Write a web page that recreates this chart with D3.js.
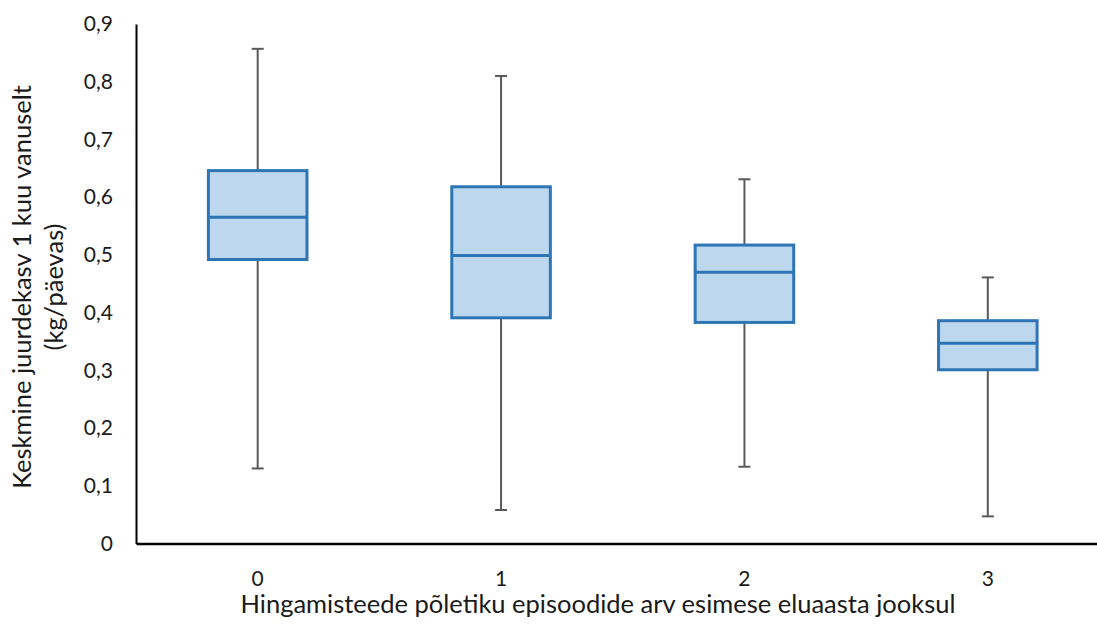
<html>
<head>
<script src="https://cdn.jsdelivr.net/npm/d3@7"></script>
<style>
  body { margin: 0; background: #fff; }
  text { font-family: Lato, "Open Sans", sans-serif; fill: #1a1a1a; }
</style>
</head>
<body>
<div id="chart"></div>
<script>
// data
var categories = ["0", "1", "2", "3"];
var whiskerLow  = [0.130, 0.058, 0.133, 0.047];
var q1          = [0.492, 0.391, 0.383, 0.301];
var median      = [0.565, 0.499, 0.470, 0.347];
var q3          = [0.646, 0.618, 0.517, 0.386];
var whiskerHigh = [0.857, 0.810, 0.631, 0.461];
var yTicks = [0, 0.1, 0.2, 0.3, 0.4, 0.5, 0.6, 0.7, 0.8, 0.9];

var width = 1097, height = 628;
var svg = d3.select("#chart").append("svg")
    .attr("width", width)
    .attr("height", height);

var x = d3.scaleBand().domain(categories).range([136, 1109.5]).padding(0);
var y = d3.scaleLinear().domain([0, 0.9]).range([543.5, 24]);

var boxes = categories.map(function(c, i) {
    return { cat: c, lo: whiskerLow[i], q1: q1[i], med: median[i], q3: q3[i], hi: whiskerHigh[i] };
});

var boxW = x.bandwidth() * 0.405;
var capW = 12;

var g = svg.append("g");

var grp = g.selectAll("g.box").data(boxes).enter().append("g").attr("class", "box");
var cx = function(d) { return x(d.cat) + x.bandwidth() / 2; };

// whiskers
grp.append("line")
    .attr("x1", cx).attr("x2", cx)
    .attr("y1", function(d) { return y(d.hi); })
    .attr("y2", function(d) { return y(d.q3); })
    .style("stroke", "#595959").style("stroke-width", 2);
grp.append("line")
    .attr("x1", cx).attr("x2", cx)
    .attr("y1", function(d) { return y(d.q1); })
    .attr("y2", function(d) { return y(d.lo); })
    .style("stroke", "#595959").style("stroke-width", 2);
// caps
["hi", "lo"].forEach(function(k) {
    grp.append("line")
        .attr("x1", function(d) { return cx(d) - capW / 2; })
        .attr("x2", function(d) { return cx(d) + capW / 2; })
        .attr("y1", function(d) { return y(d[k]); })
        .attr("y2", function(d) { return y(d[k]); })
        .style("stroke", "#595959").style("stroke-width", 2);
});

// boxes
grp.append("rect")
    .attr("x", function(d) { return cx(d) - boxW / 2; })
    .attr("width", boxW)
    .attr("y", function(d) { return y(d.q3); })
    .attr("height", function(d) { return y(d.q1) - y(d.q3); })
    .style("fill", "#BDD7EE")
    .style("stroke", "#2E75B6")
    .style("stroke-width", 3);
grp.append("line")
    .attr("x1", function(d) { return cx(d) - boxW / 2; })
    .attr("x2", function(d) { return cx(d) + boxW / 2; })
    .attr("y1", function(d) { return y(d.med); })
    .attr("y2", function(d) { return y(d.med); })
    .style("stroke", "#2E75B6").style("stroke-width", 3);

// axes
var yAxis = svg.append("g")
    .attr("transform", "translate(136,0)")
    .call(d3.axisLeft(y).tickValues(yTicks).tickSize(0).tickPadding(23)
        .tickFormat(function(d) { return d === 0 ? "0" : d3.format(".1f")(d).replace(".", ","); }));
yAxis.select(".domain").style("stroke", "#000").style("stroke-width", 2);
yAxis.selectAll("text").style("font-size", "21px").style("font-family", "Lato, 'Open Sans', sans-serif").style("fill", "#1a1a1a");

var xAxis = svg.append("g")
    .attr("transform", "translate(0,543.5)")
    .call(d3.axisBottom(x).tickSize(0).tickPadding(28));
xAxis.select(".domain").style("stroke", "#000").style("stroke-width", 2.5);
xAxis.selectAll("text").style("font-size", "21px").style("font-family", "Lato, 'Open Sans', sans-serif").style("fill", "#1a1a1a");

// titles
svg.append("text")
    .attr("x", 598).attr("y", 613)
    .attr("text-anchor", "middle")
    .style("font-size", "25.5px")
    .text("Hingamisteede põletiku episoodide arv esimese eluaasta jooksul");

var yt = svg.append("text")
    .attr("transform", "translate(31,287) rotate(-90)")
    .attr("text-anchor", "middle")
    .style("font-size", "25.5px");
yt.append("tspan").attr("x", 0).attr("y", 0).text("Keskmine juurdekasv 1 kuu vanuselt");
yt.append("tspan").attr("x", 0).attr("y", 32).text("(kg/päevas)");
</script>
</body>
</html>
